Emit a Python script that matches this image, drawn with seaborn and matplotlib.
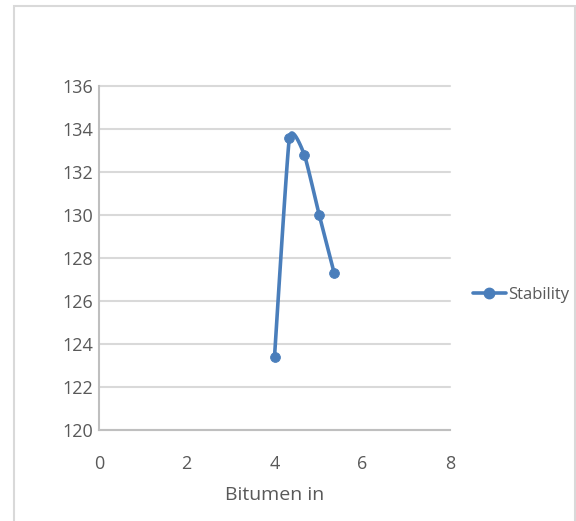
import matplotlib
matplotlib.use("Agg")
import matplotlib.pyplot as plt
import numpy as np
import pandas as pd
import seaborn as sns

# data
bitumen = [4.0, 4.34, 4.68, 5.02, 5.36]
stability = [123.4, 133.6, 132.8, 130.0, 127.3]
x_ticks = [0, 2, 4, 6, 8]
y_ticks = [120, 122, 124, 126, 128, 130, 132, 134, 136]

line_color = '#4a7ebb'
grid_color = '#d9d9d9'
text_color = '#595959'

sns.set_style('white')
plt.rcParams['font.family'] = ['Open Sans', 'DejaVu Sans']

df = pd.DataFrame({'Bitumen in': bitumen, 'Stability': stability})


def smooth(xs, ys, n=30, k=0.45):
    # catmull-rom style curve like the smoothed line in the original
    xs = np.asarray(xs, float)
    ys = np.asarray(ys, float)
    px = np.concatenate([[xs[0]], xs, [xs[-1]]])
    py = np.concatenate([[ys[0]], ys, [ys[-1]]])
    out_x, out_y = [], []
    t = np.linspace(0, 1, n)
    for i in range(1, len(px) - 2):
        for p, out in ((px, out_x), (py, out_y)):
            p0, p1, p2, p3 = p[i - 1], p[i], p[i + 1], p[i + 2]
            m1 = (p2 - p0) / 2 * k
            m2 = (p3 - p1) / 2 * k
            h00 = 2 * t**3 - 3 * t**2 + 1
            h10 = t**3 - 2 * t**2 + t
            h01 = -2 * t**3 + 3 * t**2
            h11 = t**3 - t**2
            out.extend(h00 * p1 + h10 * m1 + h01 * p2 + h11 * m2)
    return out_x, out_y


fig = plt.figure(figsize=(5.76, 5.21), dpi=100)
ax = fig.add_axes([99 / 576, 1 - 430 / 521, 351 / 576, 344 / 521])

sx, sy = smooth(df['Bitumen in'], df['Stability'])
ax.plot(sx, sy, color=line_color, lw=2.6, solid_capstyle='round', zorder=3)
sns.scatterplot(data=df, x='Bitumen in', y='Stability', ax=ax, color=line_color,
                s=50, edgecolor=line_color, zorder=4, legend=False)

ax.set_xlim(0, 8)
ax.set_ylim(120, 136)
ax.set_xticks(x_ticks)
ax.set_yticks(y_ticks)
ax.tick_params(axis='both', length=0, labelsize=13, labelcolor=text_color)
ax.tick_params(axis='x', pad=18)
ax.tick_params(axis='y', pad=4)
ax.yaxis.grid(True, color=grid_color, lw=1.5)
ax.set_axisbelow(True)
for line in ax.get_ygridlines():
    line.set_clip_on(False)
for side in ['top', 'right']:
    ax.spines[side].set_visible(False)
for side in ['left', 'bottom']:
    ax.spines[side].set_color('#bfbfbf')
    ax.spines[side].set_linewidth(1.5)

ax.set_xlabel('Bitumen in', fontsize=14, color=text_color, labelpad=9)
ax.set_ylabel('')

# legend entry on the right
handle = plt.Line2D([], [], color=line_color, lw=2.6, marker='o', markersize=7.5)
fig.legend([handle], ['Stability'], loc='center left', bbox_to_anchor=(466 / 576, 1 - 295 / 521),
           frameon=False, fontsize=12, labelcolor=text_color, handlelength=2.0,
           handletextpad=0.1, borderaxespad=0)

# chart outer border
fig.patches.append(plt.Rectangle((14 / 576, -0.01), 561 / 576, 1 - 6 / 521 + 0.01,
                                 transform=fig.transFigure, fill=False,
                                 edgecolor='#d9d9d9', lw=1.5))

fig.savefig('out.png', dpi=100)
